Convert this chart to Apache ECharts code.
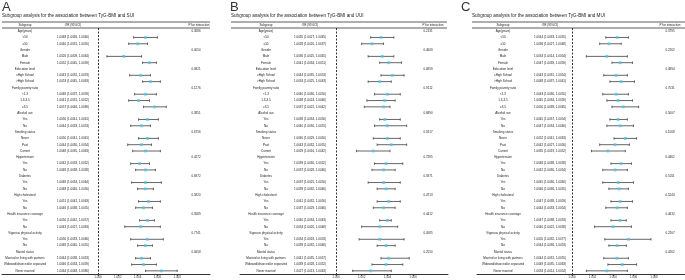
<!DOCTYPE html>
<html>
<head>
<meta charset="utf-8">
<script src="https://cdn.jsdelivr.net/npm/echarts@6/dist/echarts.min.js"></script>
<style>
  html, body { margin: 0; padding: 0; background: #fff; }
  #chart { width: 685px; height: 280px; }
</style>
</head>
<body>
<div id="chart"></div>
<script>
// rows of the forest plots (same in all three panels)
const subgroups = [
  "Age(years)", "<50", "\u226550",
  "Gender", "Male", "Female",
  "Education level", "\u2264High School", ">High School",
  "Family poverty ratio", "<1.3", "1.3-3.5", "\u22653.5",
  "Alcohol use", "Yes", "No",
  "Smoking status", "Never", "Past", "Current",
  "Hypertension", "Yes", "No",
  "Diabetes", "Yes", "No",
  "High cholesterol", "Yes", "No",
  "Health insurance coverage", "Yes", "No",
  "Vigorous physical activity", "Yes", "No",
  "Marital status", "Married or living with partners", "Widowed/divorced/or separated", "Never married"
];

// A: SUI
const orA   = [null,1.0048,1.0040,null,1.0026,1.0052,null,1.0043,1.0053,null,1.0048,1.0041,1.0057,null,1.0050,1.0044,null,1.0050,1.0044,1.0048,null,1.0042,1.0048,null,1.0048,1.0048,null,1.0051,1.0046,null,1.0050,1.0043,null,1.0050,1.0048,null,1.0044,1.0046,1.0064];
const lowA  = [null,1.0036,1.0031,null,1.0009,1.0045,null,1.0032,1.0045,null,1.0037,1.0031,1.0046,null,1.0041,1.0033,null,1.0041,1.0030,1.0035,null,1.0033,1.0038,null,1.0034,1.0040,null,1.0041,1.0038,null,1.0042,1.0027,null,1.0033,1.0040,null,1.0038,1.0034,1.0048];
const highA = [null,1.0060,1.0050,null,1.0044,1.0059,null,1.0053,1.0063,null,1.0059,1.0052,1.0069,null,1.0061,1.0053,null,1.0061,1.0054,1.0063,null,1.0052,1.0058,null,1.0064,1.0056,null,1.0063,1.0055,null,1.0057,1.0063,null,1.0066,1.0055,null,1.0053,1.0059,1.0080];
const pA = ["0.3086","0.0050","0.0821","0.1276","0.3851","0.6756","0.4272","0.6972","0.5820","0.3589","0.7741","0.0658"];

// B: UUI
const orB   = [null,1.0035,1.0028,null,1.0036,1.0041,null,1.0044,1.0034,null,1.0040,1.0038,1.0037,null,1.0038,1.0040,null,1.0040,1.0043,1.0029,null,1.0039,1.0037,null,1.0037,1.0039,null,1.0041,1.0037,null,1.0040,1.0034,null,1.0034,1.0039,null,1.0041,1.0039,1.0027];
const lowB  = [null,1.0027,1.0020,null,1.0025,1.0034,null,1.0035,1.0025,null,1.0030,1.0024,1.0022,null,1.0034,1.0030,null,1.0029,1.0032,1.0016,null,1.0030,1.0028,null,1.0025,1.0032,null,1.0032,1.0029,null,1.0034,1.0020,null,1.0018,1.0032,null,1.0035,1.0028,1.0013];
const highB = [null,1.0045,1.0037,null,1.0045,1.0051,null,1.0053,1.0043,null,1.0050,1.0046,1.0042,null,1.0050,1.0055,null,1.0050,1.0055,1.0042,null,1.0052,1.0046,null,1.0050,1.0046,null,1.0050,1.0046,null,1.0043,1.0048,null,1.0053,1.0046,null,1.0057,1.0052,1.0043];
const pB = ["0.2131","0.4609","0.0859","0.9112","0.6890","0.1817","0.7285","0.5971","0.4713","0.4412","0.0585","0.2550"];

// C: MUI
const orC   = [null,1.0044,1.0036,null,1.0034,1.0047,null,1.0043,1.0048,null,1.0043,1.0045,1.0050,null,1.0045,1.0047,null,1.0052,1.0042,1.0035,null,1.0048,1.0042,null,1.0045,1.0046,null,1.0047,1.0044,null,1.0047,1.0040,null,1.0055,1.0044,null,1.0044,1.0049,1.0034];
const lowC  = [null,1.0033,1.0027,null,1.0014,1.0039,null,1.0031,1.0037,null,1.0030,1.0034,1.0039,null,1.0037,1.0034,null,1.0041,1.0027,1.0019,null,1.0038,1.0030,null,1.0030,1.0036,null,1.0038,1.0033,null,1.0038,1.0022,null,1.0032,1.0036,null,1.0031,1.0035,1.0014];
const highC = [null,1.0055,1.0048,null,1.0054,1.0059,null,1.0054,1.0061,null,1.0055,1.0059,1.0065,null,1.0054,1.0060,null,1.0063,1.0056,1.0052,null,1.0058,1.0054,null,1.0060,1.0055,null,1.0059,1.0054,null,1.0053,1.0058,null,1.0077,1.0053,null,1.0055,1.0063,1.0054];
const pC = ["0.3795","0.2262","0.4894","0.7531","0.5007","0.1568","0.4462","0.5011","0.5244","0.4632","0.2267","0.4262"];

const ticksA = [1.000, 1.002, 1.004, 1.006, 1.008];
const ticksB = [1.000, 1.002, 1.004, 1.006];
const ticksC = [1.000, 1.002, 1.004, 1.006, 1.008];

const FONT = "Liberation Sans, Arial, sans-serif";
const TOP = 28, BOTTOM = 274;

// layout per panel (pixels)
const panels = [
  { letter: "A", outcome: "SUI", or: orA, low: lowA, high: highA, p: pA, ticks: ticksA,
    letterX: 2, titleX: 2, hdrL: 2, hdrR: 210, gridL: 2, gridR: 210, refX: 98, pxPer: 9.9,
    labelX: 25, orX: 73, pX: 196, hdrPX: 199 },
  { letter: "B", outcome: "UUI", or: orB, low: lowB, high: highB, p: pB, ticks: ticksB,
    letterX: 230, titleX: 231, hdrL: 231, hdrR: 447, gridL: 240, gridR: 448, refX: 336, pxPer: 12.85,
    labelX: 266, orX: 310, pX: 428, hdrPX: 433 },
  { letter: "C", outcome: "MUI", or: orC, low: lowC, high: highC, p: pC, ticks: ticksC,
    letterX: 461, titleX: 472, hdrL: 472, hdrR: 685, gridL: 477, gridR: 685, refX: 572, pxPer: 10.25,
    labelX: 503, orX: 550, pX: 670, hdrPX: 670 }
];

const chart = echarts.init(document.getElementById("chart"), null, { renderer: "canvas" });

const grid = [], xAxis = [], yAxis = [], series = [], title = [], graphic = [];

panels.forEach((pn, k) => {
  const min = 1 - (pn.refX - pn.gridL) / pn.pxPer * 0.001;
  const max = 1 + (pn.gridR - pn.refX) / pn.pxPer * 0.001;

  grid.push({ left: pn.gridL, top: TOP, width: pn.gridR - pn.gridL, height: BOTTOM - TOP, outerBoundsMode: "none" });
  xAxis.push({
    type: "value", gridIndex: k, min: min, max: max,
    splitLine: { show: false },
    axisLine: { show: true, onZero: false, lineStyle: { color: "#333", width: 1 } },
    axisTick: { show: true, customValues: pn.ticks, length: 2, lineStyle: { color: "#333", width: 0.8 } },
    axisLabel: { show: true, customValues: pn.ticks, formatter: v => v.toFixed(3), fontSize: 3, color: "#333", margin: 2, fontFamily: FONT }
  });
  yAxis.push({ type: "category", gridIndex: k, inverse: true, data: subgroups, show: false });

  title.push({ text: pn.letter, left: pn.letterX, top: 1, padding: 0,
    textStyle: { fontSize: 13, fontWeight: "normal", color: "#333", fontFamily: FONT } });
  title.push({ text: "Subgroup analysis for the association between TyG-BMI and " + pn.outcome,
    left: pn.titleX, top: 13.5, padding: 0,
    textStyle: { fontSize: 4.6, fontWeight: "normal", color: "#222", fontFamily: FONT } });

  // header row
  graphic.push({ type: "line", shape: { x1: pn.hdrL, y1: 22, x2: pn.hdrR, y2: 22 }, style: { stroke: "#333", lineWidth: 0.8 } });
  graphic.push({ type: "line", shape: { x1: pn.hdrL, y1: 28, x2: pn.hdrR, y2: 28 }, style: { stroke: "#333", lineWidth: 0.8 } });
  [["Subgroup", pn.labelX], ["OR (95%CI)", pn.orX], ["P for interaction", pn.hdrPX]].forEach(([t, x]) => {
    graphic.push({ type: "text", x: x, y: 25, style: { text: t, fontSize: 3, fill: "#222", align: "center", verticalAlign: "middle", fontFamily: FONT } });
  });

  // text columns
  let gi = 0;
  const textData = subgroups.map((s, i) => {
    const isHead = pn.or[i] === null;
    const orText = isHead ? "" : pn.or[i].toFixed(4) + " (" + pn.low[i].toFixed(4) + ", " + pn.high[i].toFixed(4) + ")";
    const pText = isHead ? pn.p[gi++] : "";
    return { value: [1, i], label: s, orText: orText, pText: pText };
  });
  series.push({
    type: "custom", xAxisIndex: k, yAxisIndex: k, clip: false, silent: true,
    encode: { x: 0, y: 1 },
    data: textData,
    renderItem: (params, api) => {
      const d = textData[params.dataIndex];
      const y = api.coord([1, api.value(1)])[1];
      const mk = (t, x) => ({ type: "text", style: { text: t, x: x, y: y, fontSize: 3, fill: "#222", align: "center", verticalAlign: "middle", fontFamily: FONT } });
      return { type: "group", children: [mk(d.label, pn.labelX), mk(d.orText, pn.orX), mk(d.pText, pn.pX)] };
    }
  });

  // confidence intervals
  const ciData = [];
  subgroups.forEach((s, i) => { if (pn.or[i] !== null) ciData.push([pn.low[i], pn.high[i], i]); });
  series.push({
    type: "custom", xAxisIndex: k, yAxisIndex: k, silent: true,
    encode: { x: [0, 1], y: 2 },
    data: ciData,
    renderItem: (params, api) => {
      const a = api.coord([api.value(0), api.value(2)]);
      const b = api.coord([api.value(1), api.value(2)]);
      const st = { stroke: "#555", lineWidth: 0.9 };
      return { type: "group", children: [
        { type: "line", shape: { x1: a[0], y1: a[1], x2: b[0], y2: b[1] }, style: st },
        { type: "line", shape: { x1: a[0], y1: a[1] - 1.2, x2: a[0], y2: a[1] + 1.2 }, style: st },
        { type: "line", shape: { x1: b[0], y1: b[1] - 1.2, x2: b[0], y2: b[1] + 1.2 }, style: st }
      ] };
    }
  });

  // point estimates + reference line at OR = 1
  const ptData = [];
  subgroups.forEach((s, i) => { if (pn.or[i] !== null) ptData.push([pn.or[i], i]); });
  series.push({
    type: "scatter", xAxisIndex: k, yAxisIndex: k, silent: true, z: 5,
    symbol: "rect", symbolSize: 2.8,
    itemStyle: { color: "#4fc4e6" },
    data: ptData,
    markLine: {
      silent: true, symbol: "none", label: { show: false },
      lineStyle: { color: "#333", width: 1, type: [2, 1.5] },
      data: [{ xAxis: 1 }]
    }
  });
});

chart.setOption({
  backgroundColor: "#fff",
  animation: false,
  title: title,
  grid: grid,
  xAxis: xAxis,
  yAxis: yAxis,
  graphic: graphic,
  series: series
});
</script>
</body>
</html>
